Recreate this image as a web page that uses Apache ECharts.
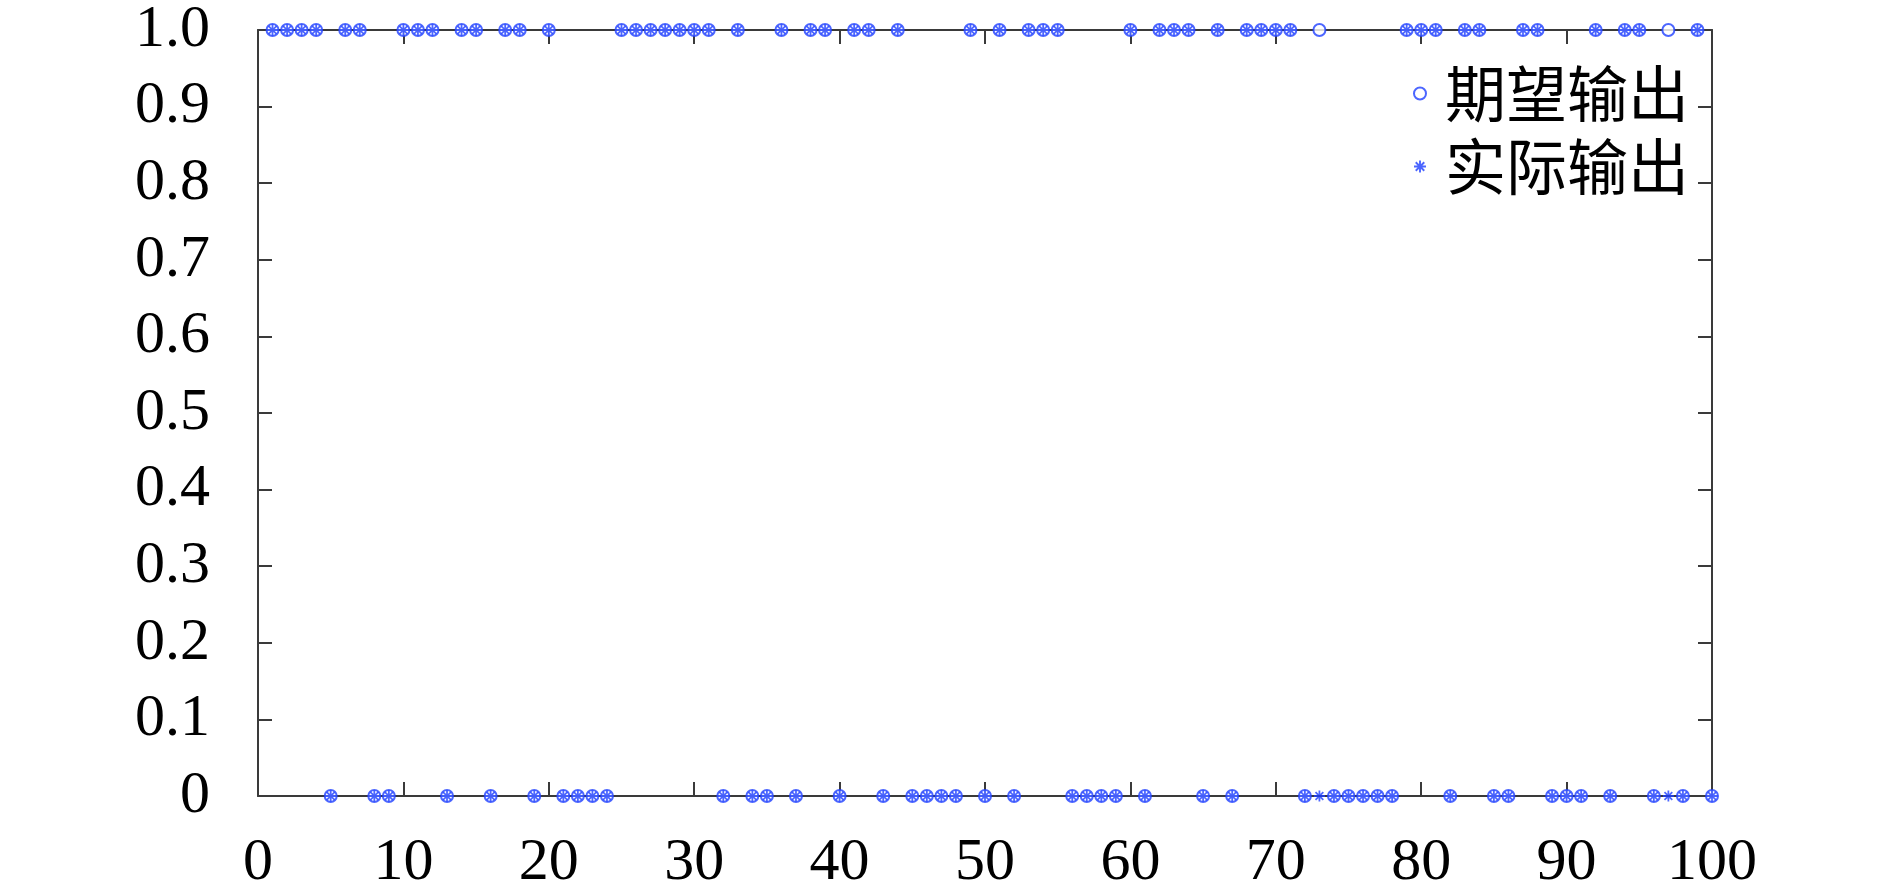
<!DOCTYPE html>
<html>
<head>
<meta charset="utf-8">
<script src="https://cdn.jsdelivr.net/npm/echarts@6/dist/echarts.min.js"></script>
<style>
html,body{margin:0;padding:0;background:#fff;}
#main{width:1890px;height:893px;}
</style>
</head>
<body>
<div id="main"></div>
<script>
// sample index runs 1..100
const expectedOutput = [
  1,1,1,1,0,1,1,0,0,1,
  1,1,0,1,1,0,1,1,0,1,
  0,0,0,0,1,1,1,1,1,1,
  1,0,1,0,0,1,0,1,1,0,
  1,1,0,1,0,0,0,0,1,0,
  1,0,1,1,1,0,0,0,0,1,
  0,1,1,1,0,1,0,1,1,1,
  1,0,1,0,0,0,0,0,1,1,
  1,0,1,1,0,0,1,1,0,0,
  0,1,0,1,1,0,1,0,1,0
];
const actualOutput = [
  1,1,1,1,0,1,1,0,0,1,
  1,1,0,1,1,0,1,1,0,1,
  0,0,0,0,1,1,1,1,1,1,
  1,0,1,0,0,1,0,1,1,0,
  1,1,0,1,0,0,0,0,1,0,
  1,0,1,1,1,0,0,0,0,1,
  0,1,1,1,0,1,0,1,1,1,
  1,0,0,0,0,0,0,0,1,1,
  1,0,1,1,0,0,1,1,0,0,
  0,1,0,1,1,0,0,0,1,0
];
const xTickLabels = ['0','10','20','30','40','50','60','70','80','90','100'];
const yTickLabels = ['0','0.1','0.2','0.3','0.4','0.5','0.6','0.7','0.8','0.9','1.0'];
const seriesNames = ['期望输出','实际输出'];

const BLUE = '#1f40ff';
const AXIS = '#3a3a3a';
const starPath = 'path://M4.2 0L5.8 0L5.8 10L4.2 10Z M0 4.2L10 4.2L10 5.8L0 5.8Z M0.9 2.0L2.0 0.9L9.1 8.0L8.0 9.1Z M8.0 0.9L9.1 2.0L2.0 9.1L0.9 8.0Z';

const toPairs = arr => arr.map((v, i) => [i + 1, v]);

const chart = echarts.init(document.getElementById('main'));
const labelFont = {fontFamily: "'Liberation Serif','Times New Roman',serif", fontSize: 60, color: '#000'};

const option = {
  animation: false,
  backgroundColor: '#fff',
  grid: {left: 258, right: 178, top: 28, bottom: 96},
  xAxis: [
    {type: 'value', min: 0, max: 100, interval: 10, position: 'bottom',
     axisLine: {show: true, onZero: false, lineStyle: {color: AXIS, width: 2}},
     axisTick: {show: true, inside: true, length: 14, lineStyle: {color: AXIS, width: 2}},
     axisLabel: Object.assign({margin: 37, formatter: v => xTickLabels[Math.round(v / 10)]}, labelFont),
     splitLine: {show: false}},
    {type: 'value', min: 0, max: 100, interval: 10, position: 'top',
     axisLine: {show: true, onZero: false, lineStyle: {color: AXIS, width: 2}},
     axisTick: {show: true, inside: true, length: 14, lineStyle: {color: AXIS, width: 2}},
     axisLabel: {show: false}, splitLine: {show: false}}
  ],
  yAxis: [
    {type: 'value', min: 0, max: 1, interval: 0.1, position: 'left',
     axisLine: {show: true, onZero: false, lineStyle: {color: AXIS, width: 2}},
     axisTick: {show: true, inside: true, length: 14, lineStyle: {color: AXIS, width: 2}},
     axisLabel: Object.assign({margin: 48, formatter: v => yTickLabels[Math.round(v * 10)]}, labelFont),
     splitLine: {show: false}},
    {type: 'value', min: 0, max: 1, interval: 0.1, position: 'right',
     axisLine: {show: true, onZero: false, lineStyle: {color: AXIS, width: 2}},
     axisTick: {show: true, inside: true, length: 14, lineStyle: {color: AXIS, width: 2}},
     axisLabel: {show: false}, splitLine: {show: false}}
  ],
  legend: {
    orient: 'vertical',
    right: 196,
    top: 58,
    itemGap: 12,
    itemWidth: 12,
    itemHeight: 12,
    textStyle: {fontFamily: "'Noto Sans CJK SC', sans-serif", fontSize: 61, lineHeight: 61, color: '#000', padding: [0, 0, 0, 14]},
    data: [
      {name: seriesNames[0], icon: 'emptyCircle', itemStyle: {color: BLUE, borderColor: BLUE, borderWidth: 2}},
      {name: seriesNames[1], icon: starPath, itemStyle: {color: BLUE, borderWidth: 0}}
    ]
  },
  series: [
    {name: seriesNames[0], type: 'scatter', xAxisIndex: 0, yAxisIndex: 0, clip: false,
     symbol: 'emptyCircle', symbolSize: 12,
     itemStyle: {color: BLUE, borderColor: BLUE, borderWidth: 2.2},
     data: toPairs(expectedOutput), z: 3},
    {name: seriesNames[1], type: 'scatter', xAxisIndex: 0, yAxisIndex: 0, clip: false,
     symbol: starPath, symbolSize: 11,
     itemStyle: {color: BLUE, borderWidth: 0},
     data: toPairs(actualOutput), z: 4}
  ]
};
chart.setOption(option);
</script>
</body>
</html>
